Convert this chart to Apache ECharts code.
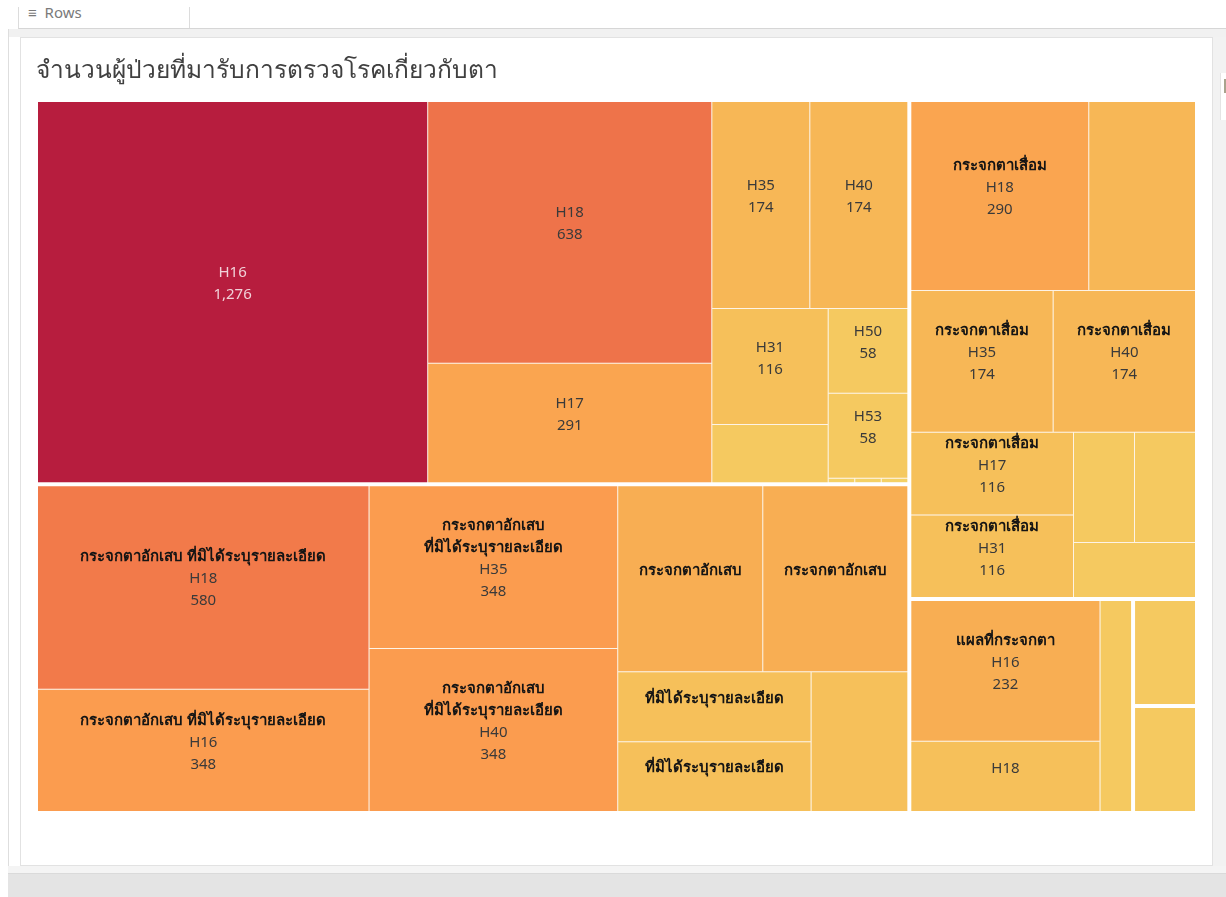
<!DOCTYPE html>
<html>
<head>
<meta charset="utf-8">
<title>จำนวนผู้ป่วยที่มารับการตรวจโรคเกี่ยวกับตา</title>
<script src="https://cdn.jsdelivr.net/npm/echarts@6/dist/echarts.min.js"></script>
<style>
  html, body { margin: 0; padding: 0; width: 1226px; height: 897px; overflow: hidden; background: #fff; }
  .frame { position: absolute; box-sizing: border-box; }
  #toolbar { left: 18px; top: 7px; width: 1208px; height: 22px; background: #fff; border-left: 1px solid #dcdcdc; border-bottom: 1px solid #d6d6d6; overflow: hidden; }
  #toolbar .sep { position: absolute; left: 170px; top: 0; width: 1px; height: 22px; background: #dcdcdc; }
  #toolbar .shelf { position: absolute; left: 9px; top: -5px; font: 15px "Noto Sans", sans-serif; color: #7a7a7a; white-space: pre; }
  #band { left: 8px; top: 29px; width: 1218px; height: 8px; background: #f1f1f1; }
  #leftRule { left: 8px; top: 29px; width: 1px; height: 846px; background: #dedede; }
  #panel { left: 20px; top: 37px; width: 1193px; height: 829px; background: #fff; border: 1px solid #e2e2e2; }
  #rightStrip { left: 1213px; top: 37px; width: 13px; height: 836px; background: #f2f2f2; }
  #rightBox { left: 1220px; top: 73px; width: 6px; height: 47px; background: #fff; border-left: 1px solid #e4e4e4; }
  #rightBox i { position: absolute; left: 3px; top: 6px; width: 3px; height: 14px; background: #a9a38e; }
  #bottomBand { left: 8px; top: 866px; width: 1218px; height: 7px; background: #f4f4f4; }
  #bottom { left: 8px; top: 873px; width: 1218px; height: 24px; background: #e4e4e4; border-top: 1px solid #dadada; }
  #chart { position: absolute; left: 0; top: 0; width: 1226px; height: 897px; }
</style>
</head>
<body>
<div class="frame" id="toolbar"><span class="shelf">&#8801;  Rows</span><div class="sep"></div></div>
<div class="frame" id="band"></div>
<div class="frame" id="leftRule"></div>
<div class="frame" id="panel"></div>
<div class="frame" id="rightStrip"></div>
<div class="frame" id="rightBox"><i></i></div>
<div class="frame" id="bottomBand"></div>
<div class="frame" id="bottom"></div>
<div id="chart"></div>
<script>
// Patient counts per eye-disease name and ICD-10 code
const chartTitle = 'จำนวนผู้ป่วยที่มารับการตรวจโรคเกี่ยวกับตา';

const diseaseNames = [
  '',
  'กระจกตาอักเสบ ที่มิได้ระบุรายละเอียด',
  'กระจกตาเสื่อม',
  'แผลที่กระจกตา',
  'กระจกตาขุ่น',
  'ต้อเนื้อ'
];

const diseaseCodes = [
  ['H16', 'H18', 'H17', 'H35', 'H40', 'H31', 'H11', 'H50', 'H53', 'H04', 'H10', 'H20'],
  ['H18', 'H16', 'H35', 'H40', 'H17', 'H31', 'H50', 'H53', 'H11'],
  ['H18', 'H16', 'H35', 'H40', 'H17', 'H31', 'H50', 'H53', 'H11'],
  ['H16', 'H18', 'H17'],
  ['H17'],
  ['H11']
];

const diseaseCounts = [
  [1276, 638, 291, 174, 174, 116, 58, 58, 58, 1, 1, 1],
  [580, 348, 348, 348, 232, 232, 116, 116, 116],
  [290, 174, 174, 174, 116, 116, 58, 58, 58],
  [232, 116, 58],
  [58],
  [58]
];

// Which label lines each tile shows:
// ncv = name, code, count; NNcv = name on two lines, code, count;
// N1 / N2 = first / second part of the name only; c = code only; '' = no label
const labelModes = [
  ['ncv', 'ncv', 'ncv', 'ncv', 'ncv', 'ncv', '', 'ncv', 'ncv', '', '', ''],
  ['ncv', 'ncv', 'NNcv', 'NNcv', 'N1', 'N1', 'N2', 'N2', ''],
  ['ncv', '', 'ncv', 'ncv', 'ncv', 'ncv', '', '', ''],
  ['ncv', 'c', ''],
  [''],
  ['']
];

// Sequential gold → red ramp used for the count colour scale
const goldRed = ['#f4d166', '#f6be59', '#f9aa51', '#fc964e', '#f6834b', '#ee734a',
                 '#e56249', '#db5247', '#cf4244', '#c43141', '#b71d3e'];

const allCounts = diseaseCounts.flat();
const minCount = Math.min(...allCounts);
const maxCount = Math.max(...allCounts);

const LINE_H = 22;   // label line height
const LIFT = 8;      // labels sit slightly above the tile centre

const leafByKey = {};
const treeData = diseaseNames.map((disease, gi) => ({
  name: disease,
  children: diseaseCodes[gi].map((code, ci) => {
    const leaf = { name: code, value: diseaseCounts[gi][ci], disease: disease, mode: labelModes[gi][ci] };
    leafByKey[disease + '|' + code] = leaf;
    return leaf;
  })
}));

const textFont = '"Noto Sans", "DejaVu Sans", sans-serif';

function isDark(color) {
  const c = echarts.color.parse(color || '#fff');
  if (!c) return false;
  return 0.299 * c[0] + 0.587 * c[1] + 0.114 * c[2] < 120;
}

// Lines of a tile label as [richStyleKind, text] pairs
function labelLines(d, code, value) {
  const parts = d.disease ? d.disease.split(' ') : [];
  const count = Number(value).toLocaleString('en-US');
  const out = [];
  switch (d.mode) {
    case 'ncv':
      if (d.disease) out.push(['n', d.disease]);
      out.push(['c', code], ['c', count]);
      break;
    case 'NNcv':
      parts.forEach(s => out.push(['n', s]));
      out.push(['c', code], ['c', count]);
      break;
    case 'N1': out.push(['n', parts[0]]); break;
    case 'N2': out.push(['n', parts[1]]); break;
    case 'c': out.push(['c', code]); break;
  }
  return out;
}

function leafLabel(p) {
  const d = p.data || {};
  if (!d.mode) return '';
  const suffix = isDark(p.color) ? 'w' : '';
  return labelLines(d, p.name, p.value)
    .map(([kind, text]) => '{' + kind + suffix + '|' + text + '}')
    .join('\n');
}

const chart = echarts.init(document.getElementById('chart'), null, { renderer: 'canvas' });

chart.setOption({
  backgroundColor: 'transparent',
  animation: false,
  title: {
    text: chartTitle,
    left: 31,
    top: 54,
    textStyle: { fontSize: 24.5, fontWeight: 'normal', color: '#404040', fontFamily: textFont }
  },
  tooltip: { show: false },
  series: [{
    type: 'treemap',
    left: 38,
    top: 102,
    width: 1157,
    height: 709,
    sort: false,
    roam: false,
    nodeClick: false,
    breadcrumb: { show: false },
    upperLabel: { show: false },
    emphasis: { disabled: true },
    label: {
      show: true,
      position: 'inside',
      padding: 0,
      overflow: 'none',
      formatter: leafLabel,
      rich: {
        n:  { fontSize: 15, fontWeight: 'bold', color: '#141414', lineHeight: LINE_H, fontFamily: textFont },
        c:  { fontSize: 15, color: '#3a3a3a', lineHeight: LINE_H, fontFamily: textFont },
        nw: { fontSize: 15, fontWeight: 'bold', color: 'rgba(255,255,255,0.85)', lineHeight: LINE_H, fontFamily: textFont },
        cw: { fontSize: 15, color: 'rgba(255,255,255,0.8)', lineHeight: LINE_H, fontFamily: textFont }
      }
    },
    levels: [
      { itemStyle: { borderWidth: 0, gapWidth: 4, borderColor: '#ffffff' } },
      {
        color: goldRed,
        colorMappingBy: 'value',
        visualMin: minCount,
        visualMax: maxCount,
        itemStyle: { borderWidth: 0, gapWidth: 1, borderColor: '#fdf3e6' }
      },
      { itemStyle: { borderWidth: 0 } }
    ],
    data: treeData
  }]
});

// Rich labels start at the top of their tile; pad each one so its block
// sits around the middle of the tile that the treemap layout produced.
(function centreLabels() {
  const data = chart.getModel().getSeriesByIndex(0).getData();
  for (let i = 0; i < data.count(); i++) {
    const raw = data.getRawDataItem(i);
    const box = data.getItemLayout(i);
    if (!raw || !raw.mode || !box) continue;
    const leaf = leafByKey[raw.disease + '|' + raw.name];
    if (!leaf) continue;
    const n = labelLines(leaf, leaf.name, leaf.value).length;
    const pad = Math.max(0, Math.round((box.height - n * LINE_H) / 2 - LIFT));
    leaf.label = { padding: [pad, 0, 0, 0] };
  }
  chart.setOption({ series: [{ data: treeData }] });
})();
</script>
</body>
</html>
